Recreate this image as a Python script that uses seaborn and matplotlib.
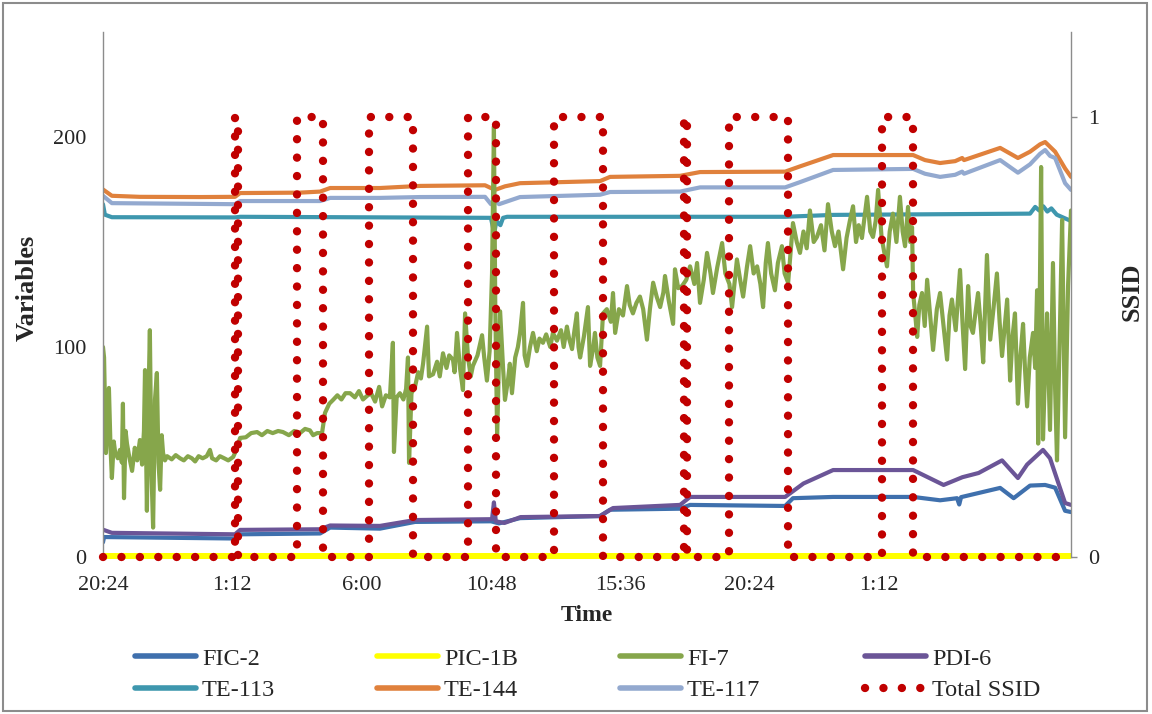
import matplotlib
matplotlib.use("Agg")
import matplotlib.pyplot as plt
from matplotlib.lines import Line2D
from matplotlib.patches import Rectangle
import seaborn as sns

# ---- data (time in hours since 20:24) ----
fic2_t = [0.00, 0.04, 4.90, 5.09, 8.06, 8.43, 10.28, 11.58, 14.40, 14.70, 15.48, 18.45,
          18.82, 21.42, 21.79, 25.32, 25.61, 27.10, 30.07, 31.07, 31.70, 31.78, 31.85,
          33.30, 33.80, 34.41, 34.97, 35.34, 35.71, 35.93]
fic2_v = [7.0, 9.5, 8.8, 10.8, 11.2, 14.0, 13.5, 16.7, 17.0, 16.0, 18.5, 19.5,
          22.5, 23.0, 24.8, 24.3, 28.0, 28.6, 28.6, 27.0, 28.0, 25.0, 28.5,
          32.9, 28.0, 34.0, 34.3, 33.0, 22.0, 21.4]

pic1b_t = [0.00, 35.93]
pic1b_v = [0.5, 0.5]

fi7_t = [0.00, 0.04, 0.11, 0.22, 0.28, 0.33, 0.40, 0.45, 0.55, 0.63, 0.70, 0.74, 0.78, 0.84,
         0.89, 0.97, 1.08, 1.18, 1.27, 1.37, 1.45, 1.52, 1.56, 1.63, 1.68, 1.74, 1.80, 1.86,
         1.93, 2.00, 2.06, 2.12, 2.18, 2.23, 2.30, 2.38, 2.55, 2.70, 2.86, 3.00, 3.15, 3.30,
         3.42, 3.55, 3.70, 3.85, 3.97, 4.05, 4.20, 4.34, 4.50, 4.65, 4.83, 4.95, 5.09, 5.30,
         5.50, 5.72, 5.90, 6.10, 6.30, 6.50, 6.68, 6.90, 7.10, 7.31, 7.50, 7.68, 7.80, 7.95,
         8.13, 8.24, 8.40, 8.54, 8.70, 8.85, 9.00, 9.17, 9.35, 9.50, 9.65, 9.80, 9.95, 10.10,
         10.25, 10.36, 10.50, 10.65, 10.76, 10.80, 10.90, 11.02, 11.15, 11.25, 11.32, 11.36,
         11.45, 11.58, 11.70, 11.80, 11.88, 12.03, 12.10, 12.25, 12.40, 12.50, 12.62, 12.75,
         12.85, 12.99, 13.05, 13.14, 13.25, 13.36, 13.44, 13.55, 13.65, 13.73, 13.90, 14.07,
         14.15, 14.25, 14.35, 14.44, 14.51, 14.56, 14.63, 14.74, 14.85, 14.92, 15.03, 15.10,
         15.18, 15.30, 15.40, 15.48, 15.59, 15.65, 15.74, 15.85, 15.96, 16.10, 16.20, 16.33,
         16.45, 16.60, 16.70, 16.85, 17.00, 17.10, 17.22, 17.30, 17.41, 17.50, 17.59, 17.65,
         17.71, 17.85, 18.00, 18.08, 18.20, 18.26, 18.35, 18.45, 18.56, 18.70, 18.85, 18.93,
         19.01, 19.15, 19.30, 19.45, 19.55, 19.67, 19.80, 19.93, 20.05, 20.19, 20.30, 20.42,
         20.55, 20.68, 20.80, 20.86, 21.00, 21.16, 21.23, 21.35, 21.49, 21.65, 21.79, 21.95,
         22.05, 22.16, 22.30, 22.42, 22.55, 22.64, 22.80, 22.98, 23.10, 23.25, 23.35, 23.53,
         23.65, 23.76, 23.90, 24.02, 24.15, 24.28, 24.40, 24.50, 24.60, 24.68, 24.80, 24.94,
         25.05, 25.20, 25.30, 25.43, 25.52, 25.61, 25.75, 25.87, 26.00, 26.12, 26.24, 26.38,
         26.50, 26.65, 26.78, 26.91, 27.05, 27.17, 27.30, 27.47, 27.60, 27.72, 27.84, 27.95,
         28.05, 28.17, 28.25, 28.36, 28.48, 28.58, 28.68, 28.77, 28.90, 29.00, 29.10, 29.20,
         29.32, 29.45, 29.58, 29.68, 29.77, 29.88, 29.96, 30.03, 30.07, 30.15, 30.22, 30.30,
         30.40, 30.50, 30.59, 30.70, 30.81, 30.95, 31.07, 31.20, 31.33, 31.42, 31.51, 31.65,
         31.81, 31.90, 32.00, 32.11, 32.20, 32.29, 32.40, 32.48, 32.58, 32.67, 32.81, 32.93,
         33.05, 33.18, 33.28, 33.37, 33.47, 33.56, 33.67, 33.76, 33.85, 33.96, 34.05, 34.15,
         34.22, 34.30, 34.40, 34.52, 34.60, 34.67, 34.71, 34.76, 34.82, 34.89, 34.97, 35.04,
         35.15, 35.26, 35.34, 35.41, 35.52, 35.60, 35.71, 35.82, 35.93]
fi7_v = [100, 95, 49.5, 80.5, 52, 37.6, 55, 50, 47, 51, 45, 73, 28, 60,
         54, 48, 41, 52, 46, 55.7, 44, 60, 89, 22, 70, 108, 40, 14,
         75, 87.6, 45, 32, 58, 49.5, 46, 48, 46.5, 48.5, 47, 46, 48, 47,
         45.5, 48, 47, 48, 51, 47, 46, 48, 47, 46, 47.6, 51, 56.7, 57,
         59, 59.5, 58, 60, 59, 60, 59.5, 58, 60, 59, 61, 60.3, 58, 59,
         59, 68.6, 73, 74.8, 77, 75, 78, 78, 76, 79, 75, 76.7, 78, 74,
         81, 71.7, 77, 76, 102, 50, 76, 78, 75, 80, 95, 44.8,
         78, 81, 88, 85, 92, 109.7, 86, 87, 93, 86, 97, 90,
         96, 94, 88, 106.7, 90, 79.5, 116, 95, 86, 91, 96, 105.6,
         95, 84, 98, 135, 205, 120, 57, 117, 90, 74.8, 84, 92,
         78, 95, 100, 106.7, 121, 96, 91, 100, 106.7, 98, 104, 102,
         106, 100, 106.7, 103, 108, 100, 109.7, 104, 99, 108, 116, 100,
         95, 105, 119, 91, 100, 106.7, 95, 91, 116, 118, 112, 125.7,
         106.7, 118, 115, 129, 120, 116, 121, 124, 118, 103.5, 118, 130.6,
         124, 119, 126, 133.8, 122, 111, 137, 128, 129, 132, 138.4, 130,
         140, 121, 132, 144.8, 135, 125.7, 138, 149.5, 135, 130, 119, 141.7,
         132, 124, 138, 148, 135, 138.4, 130, 119, 140, 149.5, 135, 127,
         140, 148, 135, 130.6, 145, 159, 150, 144.8, 155, 147, 165, 150,
         152.4, 158, 146, 168, 155, 148, 155, 137, 152, 160, 167, 150,
         158, 151.9, 160, 171.5, 155, 152.4, 160, 174.8, 152, 145, 138.4, 155,
         163.5, 150, 171.5, 155, 148, 166.7, 150, 157, 125.7, 115, 104.8, 120,
         125.7, 110, 132, 115, 98.6, 118, 125.7, 110, 94, 115, 122.6, 108,
         136.7, 112, 89.5, 129, 110, 106.7, 118, 125.7, 110, 92.7, 143.8, 103.5,
         118, 135, 112, 95.7, 110, 122.6, 84, 105, 116, 73, 95, 111,
         90, 71.7, 95, 106.7, 90, 127, 54, 110, 185.7, 56, 90, 116,
         60.5, 140, 80, 46, 110, 160.5, 57, 129, 165]

pdi6_t = [0.00, 0.33, 4.90, 5.09, 8.06, 8.43, 10.28, 11.58, 14.44, 14.51, 14.58, 14.90,
          15.50, 18.45, 18.93, 21.42, 21.79, 25.32, 26.00, 27.10, 30.07, 31.20, 31.90,
          32.50, 33.37, 33.96, 34.30, 34.89, 35.15, 35.71, 35.93]
pdi6_v = [13.0, 11.5, 10.8, 12.9, 13.2, 15.0, 14.8, 17.6, 18.0, 26.0, 17.0, 16.2,
          19.0, 19.5, 23.3, 24.8, 28.6, 28.6, 35.0, 41.4, 41.4, 34.3, 38.0,
          40.0, 46.0, 37.6, 44.0, 51.0, 47.0, 25.7, 24.8]

te113_t = [0.00, 0.07, 0.33, 4.90, 5.09, 14.40, 14.52, 14.60, 14.75, 14.85, 15.00,
           25.32, 27.10, 34.41, 34.60, 34.75, 34.90, 35.05, 35.20, 35.40, 35.93]
te113_v = [168.0, 163.0, 161.8, 161.7, 162.0, 161.5, 154.0, 160.0, 158.0, 161.5, 162.0,
           162.0, 162.9, 163.5, 166.7, 165.0, 167.0, 164.5, 166.0, 163.0, 160.0]

te144_t = [0.00, 0.33, 1.37, 3.60, 4.90, 5.09, 7.31, 8.06, 8.43, 10.28, 11.77, 14.18,
           14.55, 14.92, 15.48, 18.45, 18.82, 21.42, 22.16, 25.32, 25.87, 27.10, 30.07,
           30.51, 31.07, 31.63, 31.89, 31.96, 33.30, 33.96, 34.41, 34.78, 34.97, 35.34,
           35.71, 35.93]
te144_v = [175.0, 172.0, 171.5, 171.4, 171.5, 173.3, 173.5, 174.0, 175.7, 175.7, 176.7, 177.0,
           174.8, 176.5, 178.0, 179.0, 181.0, 181.5, 183.3, 183.5, 186.0, 191.4, 191.4,
           189.0, 187.6, 188.5, 190.0, 189.0, 194.8, 190.0, 193.0, 196.5, 197.6, 193.0,
           185.0, 181.0]

te117_t = [0.00, 0.33, 4.90, 5.09, 8.06, 8.43, 10.28, 11.77, 14.18, 14.40, 14.55, 14.70,
           15.48, 18.45, 18.82, 21.42, 22.16, 25.32, 25.87, 27.10, 30.07, 30.51, 31.07,
           31.63, 31.89, 31.96, 33.30, 33.96, 34.41, 34.78, 34.97, 35.15, 35.34, 35.71, 35.93]
te117_v = [172.0, 168.5, 168.0, 169.5, 169.5, 171.0, 171.0, 171.4, 171.5, 168.0, 170.0, 168.0,
           171.4, 172.5, 173.8, 174.0, 176.0, 176.0, 178.5, 184.3, 184.8, 182.5, 181.0,
           182.0, 183.5, 182.5, 189.0, 183.0, 187.0, 192.0, 193.8, 191.0, 190.0, 178.0, 174.8]

# steady-state indicator (step changes)
ssid_t = [0.00, 4.90, 5.01, 7.20, 8.17, 9.87, 11.51, 13.55, 14.59, 16.74, 18.56,
          21.57, 21.68, 23.24, 25.43, 28.92, 30.07, 35.93]
ssid_v = [0, 1, 0, 1, 0, 1, 0, 1, 0, 1, 0, 1, 0, 1, 0, 1, 0, 0]

tick_hours = [0, 4.8, 9.6, 14.4, 19.2, 24.0, 28.8]
tick_labels = ["20:24", "1:12", "6:00", "10:48", "15:36", "20:24", "1:12"]

series = [
    ("FIC-2", fic2_t, fic2_v, "#3f70ad"),
    ("PIC-1B", pic1b_t, pic1b_v, "#ffff00"),
    ("PDI-6", pdi6_t, pdi6_v, "#6b5597"),
    ("TE-113", te113_t, te113_v, "#3e97ae"),
    ("TE-144", te144_t, te144_v, "#e0813c"),
    ("TE-117", te117_t, te117_v, "#93a9cf"),
    ("FI-7", fi7_t, fi7_v, "#86a64b"),
]
ssid_color = "#c00000"
dot_lw = 6.0
dot_style = (0, (0.01, 2.2))

# ---- style ----
sns.set_style("white")
plt.rcParams["font.family"] = ["Liberation Serif", "DejaVu Serif"]

fig = plt.figure(figsize=(11.52, 7.14), dpi=100)
ax = fig.add_axes([0.0894, 0.2199, 0.8403, 0.7353])

for name, t, v, c in series:
    sns.lineplot(x=t, y=v, ax=ax, color=c, linewidth=3.0, estimator=None,
                 sort=False, legend=False)
    ln = ax.lines[-1]
    ln.set_solid_capstyle("round")
    if name == "PIC-1B":
        ln.set_linewidth(4.3)
        ln.set_solid_capstyle("butt")
        ln.set_clip_on(False)
        ln.set_zorder(3)

ax.set_xlim(0, 35.93)
ax.set_ylim(0, 250)
ax.set_yticks([0, 100, 200])
ax.set_xticks(tick_hours)
ax.set_xticklabels(tick_labels)
ax.tick_params(axis="y", length=0, pad=12, labelsize=16)
ax.tick_params(axis="x", length=0, pad=14, labelsize=16)
ax.set_xlabel("Time", fontsize=17, fontweight="bold", labelpad=7)
ax.set_ylabel("Variables", fontsize=19, fontweight="bold")
ax.yaxis.set_label_coords(-0.066, 0.512)
for side in ("top", "right"):
    ax.spines[side].set_visible(False)
for side in ("left", "bottom"):
    ax.spines[side].set_color("#8c8c8c")
    ax.spines[side].set_linewidth(1.0)

ax2 = ax.twinx()
sns.lineplot(x=ssid_t, y=ssid_v, ax=ax2, color=ssid_color, estimator=None,
             sort=False, legend=False, drawstyle="steps-post")
dots = ax2.lines[-1]
dots.set_linewidth(dot_lw)
dots.set_linestyle(dot_style)
dots.set_dash_capstyle("round")
dots.set_clip_on(False)
ax2.set_ylim(0, 1.193)
ax2.set_yticks([0, 1])
ax2.tick_params(axis="y", length=4, width=1, color="#8c8c8c", pad=8, labelsize=16)
ax2.set_ylabel("SSID", fontsize=19, fontweight="bold")
ax2.yaxis.set_label_coords(1.051, 0.506)
for side in ("top", "left", "bottom"):
    ax2.spines[side].set_visible(False)
ax2.spines["right"].set_color("#8c8c8c")
ax2.spines["right"].set_linewidth(1.0)

# ---- legend: four evenly spaced columns of two rows ----
handles = {name: Line2D([], [], color=c, linewidth=4, solid_capstyle="round")
           for name, t, v, c in series}
handles["Total SSID"] = Line2D([], [], color=ssid_color, linewidth=dot_lw,
                               linestyle=dot_style, dash_capstyle="round")
columns = [["FIC-2", "TE-113"], ["PIC-1B", "TE-144"], ["FI-7", "TE-117"],
           ["PDI-6", "Total SSID"]]
col_x = [0.1172, 0.3273, 0.5382, 0.7509]
for cx, names in zip(col_x, columns):
    fig.legend([handles[k] for k in names], names, loc="upper left",
               bbox_to_anchor=(cx, 0.093), frameon=False, fontsize=17.5,
               handlelength=2.5, handletextpad=0.25, labelspacing=0.4,
               borderpad=0, borderaxespad=0)

# outer border
fig.patches.append(Rectangle((0.003, 0.004), 0.993, 0.992, transform=fig.transFigure,
                             fill=False, edgecolor="#8c8c8c", linewidth=1.5))

fig.savefig("out.png", dpi=100)
